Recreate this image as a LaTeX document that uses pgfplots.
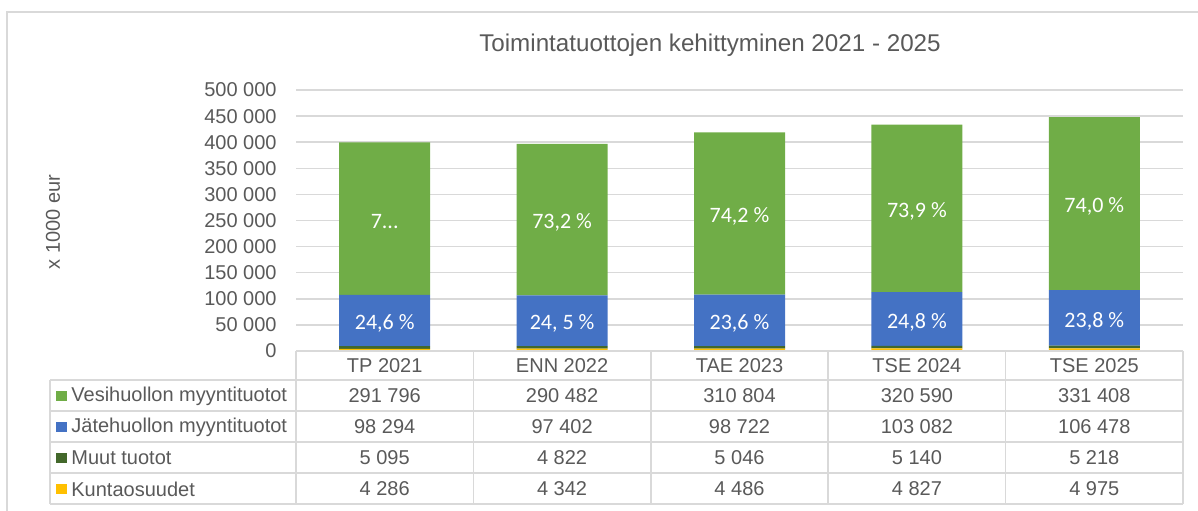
\documentclass[border=0pt]{standalone}
\usepackage{pgfplots}
\pgfplotsset{compat=1.18}
\usepackage{fontspec}
\setmainfont{Liberation Sans}
\newfontfamily\carlito{Carlito}
\definecolor{cgreen}{HTML}{70AD47}
\definecolor{cblue}{HTML}{4472C4}
\definecolor{cdkgreen}{HTML}{43682B}
\definecolor{cyellow}{HTML}{FFC000}
\definecolor{gridgray}{HTML}{D9D9D9}
\definecolor{textgray}{HTML}{595959}
\begin{document}
\begin{tikzpicture}
\begin{axis}[
  at={(148pt,-175.5pt)}, anchor=south west,
  scale only axis, width=443.5pt, height=130.5pt,
  xmin=-0.5, xmax=4.5, ymin=0, ymax=500000,
  ybar stacked, bar width=45.5pt,
  axis line style={draw=none},
  xtick=\empty, ytick={0,50000,...,500000},
  ymajorgrids, grid style={draw=gridgray, line width=0.75pt},
  major tick length=0pt,
  scaled y ticks=false,
  yticklabel style={font=\fontsize{10}{12}\selectfont, text=textgray, anchor=east, inner sep=0pt, xshift=-9.5pt},
  /pgf/number format/.cd, fixed, 1000 sep={\ }, assume math mode=true,
]
\addplot[fill=cyellow, draw=none] coordinates {(0,4286) (1,4342) (2,4486) (3,4827) (4,4975)};
\addplot[fill=cdkgreen, draw=none] coordinates {(0,5095) (1,4822) (2,5046) (3,5140) (4,5218)};
\addplot[fill=cblue, draw=none] coordinates {(0,98294) (1,97402) (2,98722) (3,103082) (4,106478)};
\addplot[fill=cgreen, draw=none] coordinates {(0,291796) (1,290482) (2,310804) (3,320590) (4,331408)};
\end{axis}
\begin{axis}[
  at={(148pt,-175.5pt)}, anchor=south west,
  scale only axis, width=443.5pt, height=130.5pt,
  xmin=-0.5, xmax=4.5, ymin=0, ymax=500000,
  hide axis,
  nodes near coords, point meta=explicit symbolic,
  nodes near coords style={anchor=center, font=\carlito\fontsize{11}{13}\selectfont, text=white, inner sep=0pt, yshift=-1.5pt},
]
\addplot[draw=none, mark=none] coordinates {(0,58528) [24,6 \%] (1,57865) [24, 5 \%] (2,58893) [23,6 \%] (3,61508) [24,8 \%] (4,63432) [23,8 \%]};
\addplot[draw=none, mark=none] coordinates {(0,253573) [7...] (1,251807) [73,2 \%] (2,263656) [74,2 \%] (3,273344) [73,9 \%] (4,282375) [74,0 \%]};
\end{axis}
\begin{scope}[x=0.5pt, y=-0.5pt, font=\fontsize{10}{12}\selectfont, text=textgray]
  % outer border
  \draw[gridgray, line width=0.75pt] (7,520) -- (7,12) -- (1200,12);
  % title
  \node[font=\fontsize{12.1}{14}\selectfont] at (710,45) {Toimintatuottojen kehittyminen 2021 - 2025};
  % y label
  \node[rotate=90] at (53,222) {x 1000 eur};
  % table grid
  \draw[gridgray, line width=0.75pt] (296,351) -- (1183,351);
  \foreach \yy in {380,411,442,473,504} \draw[gridgray, line width=0.75pt] (50,\yy) -- (1183,\yy);
  \draw[gridgray, line width=0.75pt] (50,380) -- (50,504);
  \foreach \xx in {296,473.4,650.8,828.2,1005.6,1183} \draw[gridgray, line width=0.75pt] (\xx,351) -- (\xx,504);
  % header
  \node at (384.7,366) {TP 2021};
  \node at (562.1,366) {ENN 2022};
  \node at (739.5,366) {TAE 2023};
  \node at (916.9,366) {TSE 2024};
  \node at (1094.3,366) {TSE 2025};
  % rows
  \foreach \v [count=\i from 0] in {291 796,290 482,310 804,320 590,331 408} \node at (384.7+177.4*\i,396) {\v};
  \foreach \v [count=\i from 0] in {98 294,97 402,98 722,103 082,106 478} \node at (384.7+177.4*\i,427) {\v};
  \foreach \v [count=\i from 0] in {5 095,4 822,5 046,5 140,5 218} \node at (384.7+177.4*\i,458) {\v};
  \foreach \v [count=\i from 0] in {4 286,4 342,4 486,4 827,4 975} \node at (384.7+177.4*\i,489) {\v};
  % legend
  \fill[cgreen] (56,391) rectangle (67,401);
  \fill[cblue] (56,422) rectangle (67,432);
  \fill[cdkgreen] (56,453) rectangle (67,463);
  \fill[cyellow] (56,484) rectangle (67,494);
  \node[anchor=west, inner sep=0pt] at (71,396) {Vesihuollon myyntituotot};
  \node[anchor=west, inner sep=0pt] at (71,427) {Jätehuollon myyntituotot};
  \node[anchor=west, inner sep=0pt] at (71,458) {Muut tuotot};
  \node[anchor=west, inner sep=0pt] at (71,489) {Kuntaosuudet};
\end{scope}
\pgfresetboundingbox
\useasboundingbox (0pt,0pt) rectangle (599pt,-255pt);
\end{tikzpicture}
\end{document}
